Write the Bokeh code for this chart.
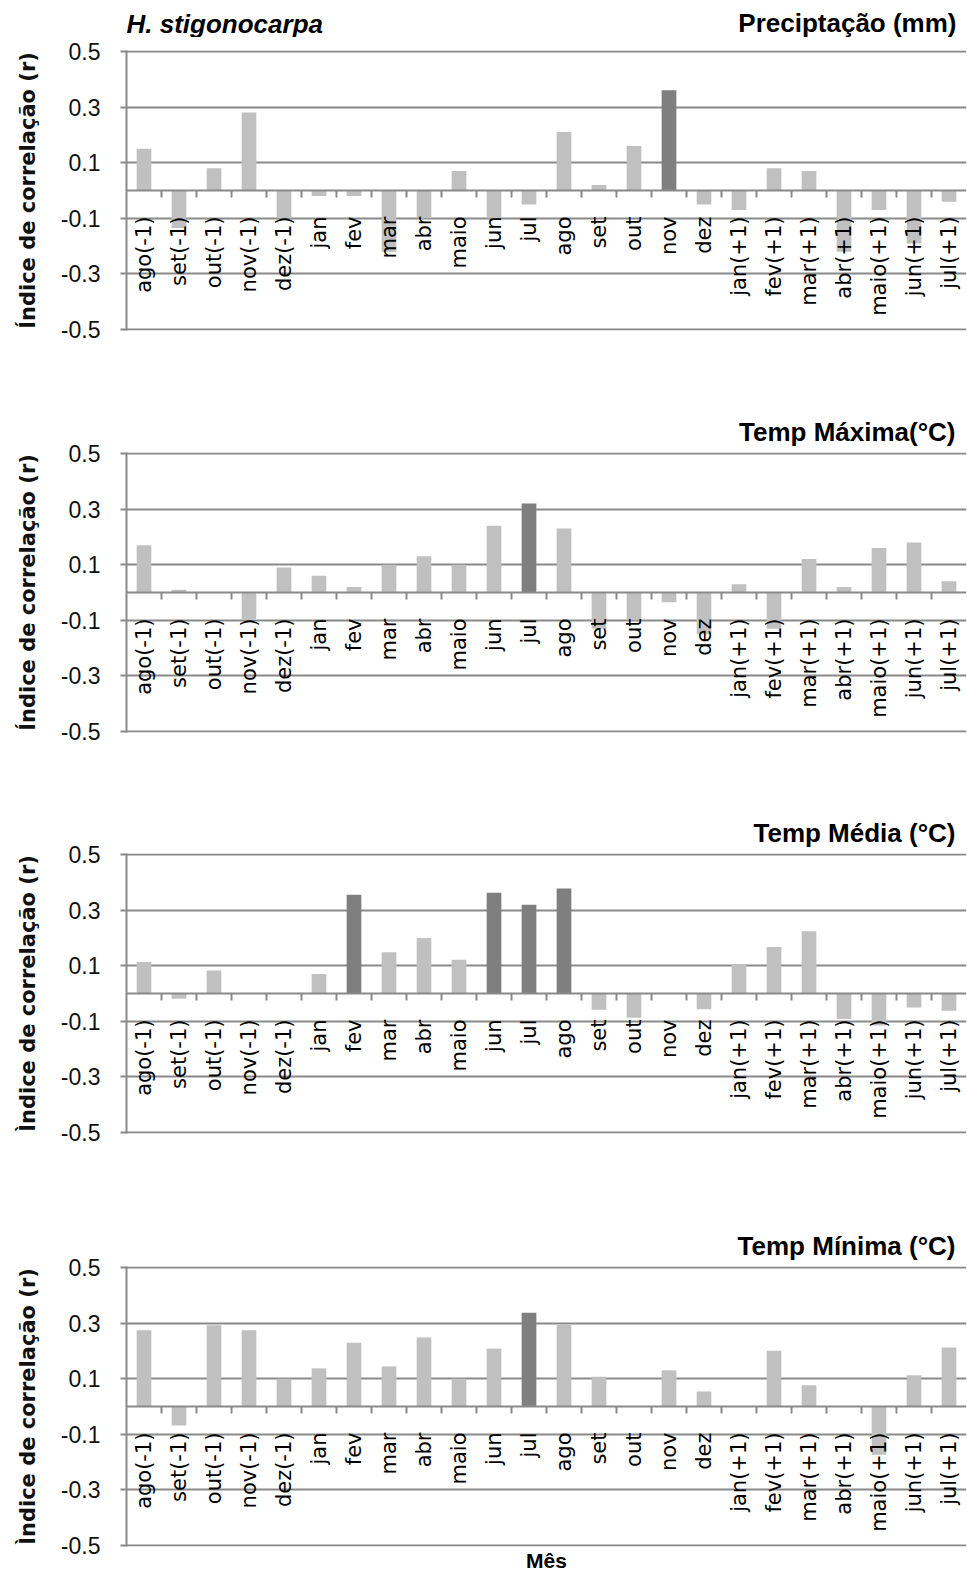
import math

from bokeh.core.properties import value
from bokeh.embed import file_html
from bokeh.layouts import column
from bokeh.models import (ColumnDataSource, FactorRange, FixedTicker,
                          PrintfTickFormatter, Range1d, Span, Title)
from bokeh.plotting import figure
from bokeh.resources import INLINE

# Months of the growth-ring year (previous year, current year, next year)
months = ["ago(-1)", "set(-1)", "out(-1)", "nov(-1)", "dez(-1)", "jan", "fev",
          "mar", "abr", "maio", "jun", "jul", "ago", "set", "out", "nov", "dez",
          "jan(+1)", "fev(+1)", "mar(+1)", "abr(+1)", "maio(+1)", "jun(+1)",
          "jul(+1)"]

# Correlation index (r) between the ring-width chronology and climate
precipitacao = [0.15, -0.135, 0.08, 0.28, -0.10, -0.02, -0.02, -0.22, -0.10,
                0.07, -0.10, -0.05, 0.21, 0.02, 0.16, 0.36, -0.05, -0.07, 0.08,
                0.07, -0.22, -0.07, -0.19, -0.04]
temp_maxima = [0.17, 0.01, 0.0, -0.095, 0.09, 0.06, 0.02, 0.10, 0.13, 0.10,
               0.24, 0.32, 0.23, -0.13, -0.10, -0.035, -0.15, 0.03, -0.13, 0.12,
               0.02, 0.16, 0.18, 0.04]
temp_media = [0.113, -0.019, 0.083, 0.0, 0.0, 0.07, 0.355, 0.148, 0.199,
              0.121, 0.362, 0.319, 0.377, -0.058, -0.087, 0.0, -0.057, 0.106,
              0.167, 0.224, -0.092, -0.115, -0.05, -0.062]
temp_minima = [0.274, -0.068, 0.292, 0.274, 0.10, 0.137, 0.229, 0.144, 0.248,
               0.10, 0.208, 0.337, 0.295, 0.107, 0.0, 0.13, 0.054, 0.0, 0.20,
               0.076, 0.0, -0.173, 0.112, 0.212]

panel_titles = ["Preciptação (mm)", "Temp Máxima(°C)", "Temp Média (°C)",
                "Temp Mínima (°C)"]
y_labels = ["Índice de correlação (r)", "Índice de correlação (r)",
            "Ìndice de correlação (r)", "Ìndice de correlação (r)"]
y_ticks = [-0.5, -0.3, -0.1, 0.1, 0.3, 0.5]
species = "H. stigonocarpa"
x_title = "Mês"
sig_r = 0.30  # significance threshold for |r|

LIGHT = "#c0c0c0"
DARK = "#7f7f7f"
GRID = "#898989"
TITLE_FONT = "Liberation Sans"
WIDTH = 967
LEFT = 126
RIGHT = 1
HEADER_H = 37
FRAME_W = WIDTH - LEFT - RIGHT

# (top border, bottom border, figure height, title standoff) per panel;
# the first panel's titles live in the header strip above it
layout_spec = [(13, 70, 363, None), (52, 68, 400, 11), (53, 82, 415, 12),
               (51, 25, 356, 11)]
series = [precipitacao, temp_maxima, temp_media, temp_minima]


def make_header():
    # strip holding the species name and the first panel's title;
    # its ranges are in pixels of its own frame
    h = figure(width=WIDTH, height=HEADER_H, output_backend="svg",
               toolbar_location=None, title_location=None,
               x_axis_type=None, y_axis_type=None,
               x_range=Range1d(0, FRAME_W), y_range=Range1d(0, HEADER_H),
               min_border_left=LEFT, min_border_right=RIGHT,
               min_border_top=0, min_border_bottom=0)
    h.outline_line_color = None
    h.grid.visible = False
    h.text(x=[0], y=[HEADER_H - 23], text=[species], text_align="left",
           text_baseline="middle", text_font=value(TITLE_FONT),
           text_font_style="bold italic", text_font_size="26px",
           text_color="#000000")
    h.text(x=[FRAME_W - 10], y=[HEADER_H - 22.5], text=[panel_titles[0]],
           text_align="right", text_baseline="middle",
           text_font=value(TITLE_FONT), text_font_style="bold",
           text_font_size="26px", text_color="#000000")
    return h


def make_panel(idx, values):
    top, bottom, height, t_standoff = layout_spec[idx]
    p = figure(width=WIDTH, height=height, output_backend="svg",
               toolbar_location=None,
               x_range=FactorRange(*months, range_padding=0),
               y_range=Range1d(-0.503, 0.503),
               min_border_left=LEFT, min_border_right=RIGHT,
               min_border_top=top, min_border_bottom=bottom)
    if t_standoff is None:
        p.title_location = None
    p.outline_line_color = None
    p.background_fill_color = "white"
    p.border_fill_color = "white"

    # y axis
    p.yaxis.ticker = FixedTicker(ticks=y_ticks)
    p.yaxis.formatter = PrintfTickFormatter(format="%.1f")
    p.yaxis.axis_line_color = GRID
    p.yaxis.axis_line_width = 2
    p.yaxis.major_tick_line_color = GRID
    p.yaxis.major_tick_line_width = 2
    p.yaxis.major_tick_out = 6
    p.yaxis.major_tick_in = 0
    p.yaxis.minor_tick_line_color = None
    p.yaxis.major_label_standoff = 20
    p.yaxis.major_label_text_font = "Liberation Sans"
    p.yaxis.major_label_text_font_size = "23px"
    p.yaxis.major_label_text_color = "#111111"
    p.yaxis.axis_label = y_labels[idx]
    p.yaxis.axis_label_text_font = "DejaVu Sans"
    p.yaxis.axis_label_text_font_style = "bold"
    p.yaxis.axis_label_text_font_size = "21px"
    p.yaxis.axis_label_text_color = "#111111"
    p.yaxis.axis_label_standoff = 18

    p.xaxis.visible = False
    p.xgrid.grid_line_color = None
    p.ygrid.ticker = FixedTicker(ticks=y_ticks)
    p.ygrid.grid_line_color = GRID
    p.ygrid.grid_line_width = 2

    colors = [DARK if abs(v) >= sig_r else LIGHT for v in values]
    src = ColumnDataSource(dict(month=months, r=values, color=colors))
    p.vbar(x="month", top="r", bottom=0, width=0.42, color="color",
           line_color=None, source=src)

    # category axis at r = 0 with ticks between months
    p.add_layout(Span(location=0, dimension="width", line_color=GRID,
                      line_width=2))
    bounds = list(range(1, len(months)))
    p.segment(x0=bounds, x1=bounds, y0=[0] * len(bounds),
              y1=[-0.025] * len(bounds), line_color=GRID, line_width=2)

    p.text(x="month", y=0, text="month", source=src, angle=math.pi / 2,
           text_align="right", text_baseline="middle", y_offset=26,
           text_font=value("DejaVu Sans"), text_font_size="21px",
           text_color="#000000")

    if t_standoff is not None:
        t = Title(text=panel_titles[idx], align="right", offset=11,
                  text_font=TITLE_FONT, text_font_style="bold",
                  text_font_size="26px", text_color="#000000",
                  standoff=t_standoff)
        p.add_layout(t, "above")

    if idx == len(series) - 1:
        p.add_layout(Title(text=x_title, align="center",
                           text_font=TITLE_FONT, text_font_style="bold",
                           text_font_size="21px", text_color="#000000",
                           standoff=0), "below")
    return p


panels = [make_panel(i, v) for i, v in enumerate(series)]
page = column(make_header(), *panels, spacing=0)

open("out.html", "w").write(file_html(page, INLINE))
